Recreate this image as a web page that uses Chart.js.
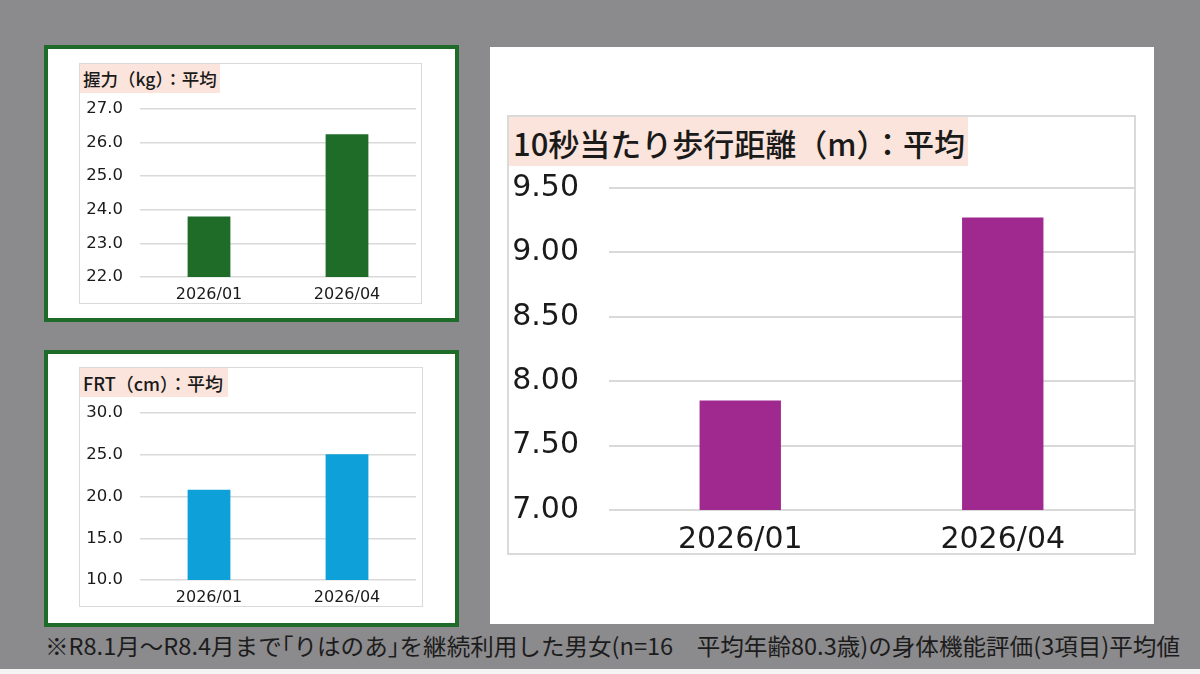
<!DOCTYPE html>
<html lang="ja">
<head>
<meta charset="utf-8">
<script src="https://cdn.jsdelivr.net/npm/chart.js@4.4.1/dist/chart.umd.min.js"></script>
<style>
  html, body { margin: 0; padding: 0; }
  body {
    width: 1200px; height: 674px; position: relative; overflow: hidden;
    background: #8b8a8c;
    font-family: "Noto Sans CJK JP", "Noto Sans", sans-serif;
  }
  .box { position: absolute; background: #fff; box-sizing: border-box; }
  .green { border: 4px solid #1f6b2a; }
  .wrap { position: absolute; background: #fff; }
  .wrap canvas { position: absolute; left: 0; top: 0; }
  .frame { position: absolute; box-sizing: border-box; border: 1.5px solid #dadada; pointer-events: none; }
  .title {
    position: absolute; left: 0; top: 0; background: #fbe4db; color: #1a1a1a;
    font-weight: 500; white-space: nowrap; box-sizing: border-box;
  }
  #note {
    position: absolute; left: 45px; top: 632px; font-size: 23px; color: #1c1c1c;
    white-space: nowrap; transform-origin: 0 0; line-height: 1.15;
  }
  #bottomStrip { position: absolute; left: 0; top: 669px; width: 1200px; height: 5px; background: #f4f4f4; }
</style>
</head>
<body>
<div class="box green" style="left:44px;top:45px;width:415px;height:277px;"></div>
<div class="box green" style="left:44px;top:350px;width:415px;height:277px;"></div>
<div class="box" style="left:490px;top:47px;width:664px;height:577px;"></div>

<div class="wrap" id="w1" style="left:79px;top:63px;width:343px;height:241px;">
  <canvas id="grip"></canvas>
  <div class="title" style="height:30px;width:141px;padding:3px 0 0 4px;font-size:17.5px;">握力（kg）：平均</div>
</div>
<div class="frame" style="left:79px;top:63px;width:343px;height:241px;"></div>

<div class="wrap" id="w2" style="left:79px;top:367px;width:344px;height:240px;">
  <canvas id="frt"></canvas>
  <div class="title" style="height:30px;width:149px;padding:3px 0 0 4px;font-size:18px;">FRT（cm）：平均</div>
</div>
<div class="frame" style="left:79px;top:367px;width:344px;height:240px;"></div>

<div class="wrap" id="w3" style="left:507px;top:115px;width:629px;height:440px;">
  <canvas id="walk"></canvas>
  <div class="title" style="height:51px;width:461px;padding:5px 0 0 6px;font-size:31px;">10秒当たり歩行距離（m）：平均</div>
</div>
<div class="frame" style="left:507px;top:115px;width:629px;height:440px;border-width:2px;"></div>

<div id="note">※R8.1月～R8.4月まで｢りはのあ｣を継続利用した男女(n=16　平均年齢80.3歳)の身体機能評価(3項目)平均値</div>
<div id="bottomStrip"></div>

<script>
// data
const months = ['2026/01', '2026/04'];

const gripValues = [23.8, 26.25];
const gripTicks = [22, 23, 24, 25, 26, 27];

const frtValues = [20.8, 25.05];
const frtTicks = [10, 15, 20, 25, 30];

const walkValues = [7.85, 9.27];
const walkTicks = [7.0, 7.5, 8.0, 8.5, 9.0, 9.5];

const tickFont = "'DejaVu Sans', 'Noto Sans', sans-serif";

// one small bar chart, the plot box is pinned with afterFit / padding
function makeChart(id, values, ticks, decimals, color, opt) {
  const wrap = document.getElementById(id).parentElement;
  const canvas = document.getElementById(id);
  canvas.width = wrap.clientWidth;
  canvas.height = wrap.clientHeight;
  canvas.style.width = wrap.clientWidth + 'px';
  canvas.style.height = wrap.clientHeight + 'px';

  return new Chart(canvas, {
    type: 'bar',
    data: {
      labels: months,
      datasets: [{
        data: values,
        backgroundColor: color,
        borderWidth: 0,
        categoryPercentage: 1,
        barPercentage: 0.31
      }]
    },
    options: {
      responsive: false,
      animation: false,
      events: [],
      layout: { padding: { top: opt.top, right: opt.right, left: 0, bottom: 0 } },
      plugins: { legend: { display: false }, tooltip: { enabled: false } },
      scales: {
        x: {
          grid: { display: false, drawTicks: false, tickLength: 0 },
          border: { display: false },
          ticks: { color: '#1a1a1a', font: { family: tickFont, size: opt.xFont }, padding: opt.xPad, maxRotation: 0 },
          afterFit: (s) => { s.height = opt.xHeight; }
        },
        y: {
          min: ticks[0],
          max: ticks[ticks.length - 1],
          afterBuildTicks: (s) => { s.ticks = ticks.map(v => ({ value: v })); },
          grid: { color: '#d9d9d9', lineWidth: opt.gridW, drawTicks: false, tickLength: 0 },
          border: { display: false },
          ticks: {
            color: '#1a1a1a',
            font: { family: tickFont, size: opt.yFont, lineHeight: 1 },
            padding: opt.yPad,
            callback: (v) => Number(v).toFixed(decimals)
          },
          afterFit: (s) => { s.width = opt.yWidth; }
        }
      }
    }
  });
}

makeChart('grip', gripValues, gripTicks, 1, '#1f6b28',
  { top: 46, right: 6, xHeight: 27, yWidth: 61, xFont: 16, yFont: 16.5, xPad: 8, yPad: 17, gridW: 1.5 });
makeChart('frt', frtValues, frtTicks, 1, '#0ea1d9',
  { top: 46, right: 7, xHeight: 27, yWidth: 61, xFont: 16, yFont: 16.5, xPad: 8, yPad: 17, gridW: 1.5 });
makeChart('walk', walkValues, walkTicks, 2, '#a0298f',
  { top: 73, right: 2, xHeight: 45, yWidth: 102, xFont: 30, yFont: 30, xPad: 12, yPad: 30, gridW: 2 });

// squeeze the footnote to the width it takes in the picture
const note = document.getElementById('note');
const w = note.getBoundingClientRect().width;
note.style.transform = 'scaleX(' + (1135 / w) + ')';
</script>
</body>
</html>
